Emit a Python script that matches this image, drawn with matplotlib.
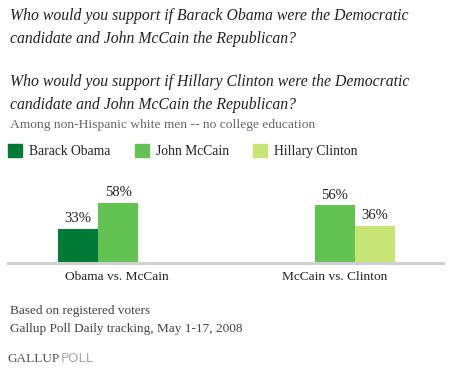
import matplotlib.pyplot as plt

#data
matchups = ["Obama vs. McCain", "McCain vs. Clinton"]
candidates = ["Barack Obama", "John McCain", "Hillary Clinton"]
colors = ["#007a37", "#62c252", "#c6e574"]
obama_mccain = [33, 58]
mccain_clinton = [56, 36]

W, H = 450, 370
fig = plt.figure(figsize=(W / 100, H / 100), dpi=100)

#axes: baseline at y=263px, spanning x 8..443px
ax = fig.add_axes([8 / W, 1 - 263 / H, 435 / W, 100 / H])
ax.set_xlim(-0.5, 1.5)
ax.set_ylim(0, 96)
ax.axis("off")

bw = 0.184
serif = "Liberation Serif"

#left group: obama, mccain ; right group: mccain, clinton
bars = [(-0.270, obama_mccain[0], colors[0]),
        (-0.270 + bw, obama_mccain[1], colors[1]),
        (0.911, mccain_clinton[0], colors[1]),
        (0.911 + bw, mccain_clinton[1], colors[2])]

for x, v, c in bars:
    ax.bar(x, v, width=bw, align="edge", color=c, edgecolor="none")
    ax.text(x + bw / 2, v + 3, "%d%%" % v, ha="center", va="bottom",
            fontsize=10.5, family=serif, color="#222222")

#baseline
ax.axhline(0, color="#d0d0d0", lw=2.2, xmin=0, xmax=1, clip_on=False)

#category labels
for i, name in enumerate(matchups):
    ax.text(i, -8, name, ha="center", va="top", fontsize=9.6,
            family=serif, color="#222222")

#titles
q1 = "Who would you support if Barack Obama were the Democratic\ncandidate and John McCain the Republican?"
q2 = "Who would you support if Hillary Clinton were the Democratic\ncandidate and John McCain the Republican?"
fig.text(10 / W, 1 - 8 / H, q1, ha="left", va="top", fontsize=11.3,
         family=serif, style="italic", color="#222222", linespacing=1.6)
fig.text(10 / W, 1 - 74 / H, q2, ha="left", va="top", fontsize=11.3,
         family=serif, style="italic", color="#222222", linespacing=1.6)
fig.text(10 / W, 1 - 125 / H, "Among non-Hispanic white men -- no college education",
         ha="left", va="center", fontsize=9.7, family=serif, color="#666666")

#legend
leg_x = [8, 135, 253]
for lx, name, c in zip(leg_x, candidates, colors):
    fig.patches.append(plt.Rectangle((lx / W, 1 - 157 / H), 14 / W, 13 / H,
                                     transform=fig.transFigure, color=c))
    fig.text((lx + 21) / W, 1 - 151 / H, name, ha="left", va="center",
             fontsize=9.8, family=serif, color="#222222")

#footer
fig.text(10 / W, 1 - 311 / H, "Based on registered voters", ha="left",
         va="center", fontsize=9.5, family=serif, color="#444444")
fig.text(10 / W, 1 - 329 / H, "Gallup Poll Daily tracking, May 1-17, 2008",
         ha="left", va="center", fontsize=9.5, family=serif, color="#444444")
fig.text(7 / W, 1 - 359 / H, "GALLUP", ha="left", va="center",
         fontsize=9.5, family=serif, color="#555555")
fig.text(61 / W, 1 - 359 / H, "POLL", ha="left", va="center",
         fontsize=9.5, family="DejaVu Sans", color="#aaaaaa")

fig.savefig("out.png", dpi=100, facecolor="white")
